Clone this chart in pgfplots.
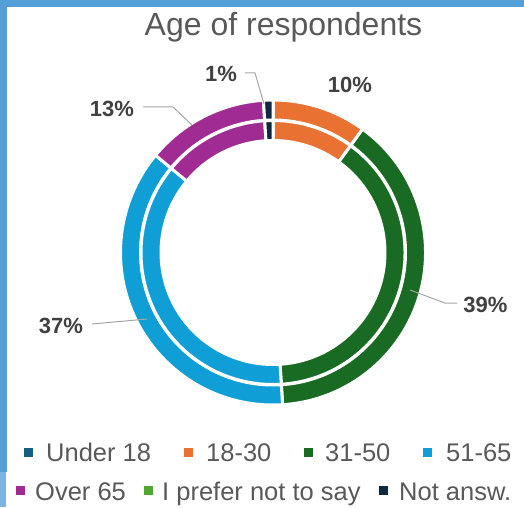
\documentclass[border=0pt]{standalone}
\usepackage{fontspec}
\setmainfont{Liberation Sans}
\usepackage{pgfplots}
\usepackage{pgfplotstable}
\pgfplotsset{compat=1.18}

\definecolor{ageA}{HTML}{156082}
\definecolor{ageB}{HTML}{E97132}
\definecolor{ageC}{HTML}{196B24}
\definecolor{ageD}{HTML}{0F9ED5}
\definecolor{ageE}{HTML}{A02B93}
\definecolor{ageF}{HTML}{4EA72E}
\definecolor{ageG}{HTML}{0E2841}
\definecolor{framecol}{HTML}{559FD9}
\definecolor{framelight}{HTML}{7DB4E3}
\definecolor{titlegray}{HTML}{595959}
\definecolor{labelgray}{HTML}{404040}
\definecolor{leader}{HTML}{A6A6A6}

% share of respondents in per cent, clockwise from 12 o'clock
\pgfplotstableread{
group share col
Under18 0 ageA
18to30 10 ageB
31to50 39 ageC
51to65 37 ageD
Over65 13 ageE
Prefer 0 ageF
NotAnsw 1 ageG
}\agedata

% one piece of a ring: colour, from angle, to angle, outer r, inner r
\newcommand\ringpart[5]{%
  \filldraw[fill=#1, draw=white, line width=3pt]
    (axis cs:{#4*cos(#2)},{#4*sin(#2)})
    arc[start angle=#2, end angle=#3, radius=#4pt]
    -- (axis cs:{#5*cos(#3)},{#5*sin(#3)})
    arc[start angle=#3, end angle=#2, radius=#5pt] -- cycle;}
\newcommand\donutslice[3]{%
  \ringpart{#1}{#2}{#3}{152.5}{132.5}%
  \ringpart{#1}{#2}{#3}{132}{112}}

\begin{document}
\begin{tikzpicture}[x=1pt,y=1pt]
\useasboundingbox (0,0) rectangle (524,507);
\fill[white] (0,0) rectangle (524,507);
\fill[framecol] (0,499.5) rectangle (524,507);
\fill[framecol] (0,35) rectangle (7,507);
\fill[framelight] (0,0) rectangle (6,35);

\begin{axis}[at={(273,254.5)}, anchor=center, scale only axis,
  width=400pt, height=400pt,
  xmin=-200, xmax=200, ymin=-200, ymax=200,
  hide axis, clip=false]
\def\cum{0}
\pgfplotsforeachungrouped \i in {0,...,6}{%
  \pgfplotstablegetelem{\i}{share}\of\agedata
  \pgfmathsetmacro\sliceval{\pgfplotsretval}%
  \pgfplotstablegetelem{\i}{col}\of\agedata
  \let\slicecol\pgfplotsretval
  \pgfmathsetmacro\angA{90-3.6*\cum}%
  \pgfmathsetmacro\angB{90-3.6*(\cum+\sliceval)}%
  \pgfmathsetmacro\cum{\cum+\sliceval}%
  \ifdim\sliceval pt>0pt
    \edef\temp{\noexpand\donutslice{\slicecol}{\angA}{\angB}}%
    \temp
  \fi
}
\end{axis}

% title
\node[anchor=base, font=\fontsize{32}{37}\selectfont, text=titlegray]
  at (283.5,471) {Age of respondents};

% leader lines
\begin{scope}[leader, line width=1pt]
\draw (245,434) -- (255,434) -- (264,403);
\draw (143,400) -- (173,400) -- (192,382);
\draw (410,217) -- (445,204) -- (457,204);
\draw (92,183) -- (147,188);
\end{scope}

% data labels
\begin{scope}[font=\fontsize{22}{26}\selectfont\bfseries, text=labelgray]
\node[anchor=base] at (221,425) {1\%};
\node[anchor=base] at (350,414) {10\%};
\node[anchor=base] at (112,390) {13\%};
\node[anchor=base] at (485.5,195) {39\%};
\node[anchor=base] at (61,174) {37\%};
\end{scope}

% legend
\begin{scope}[font=\fontsize{25.5}{30}\selectfont, text=titlegray,
  every node/.style={anchor=base west, inner sep=0pt}]
\fill[ageA] (24,50.3) rectangle +(9,9);  \node at (46,46) {Under 18};
\fill[ageB] (184,50.3) rectangle +(9,9); \node at (206,46) {18-30};
\fill[ageC] (304,50.3) rectangle +(9,9); \node at (325,46) {31-50};
\fill[ageD] (423,50.3) rectangle +(9,9); \node at (446,46) {51-65};
\fill[ageE] (16,12) rectangle +(9,9);    \node at (35,7) {Over 65};
\fill[ageF] (144,12) rectangle +(9,9);   \node at (162,7) {I prefer not to say};
\fill[ageG] (379,12) rectangle +(9,9);   \node at (399,7) {Not answ.};
\end{scope}
\end{tikzpicture}
\end{document}
